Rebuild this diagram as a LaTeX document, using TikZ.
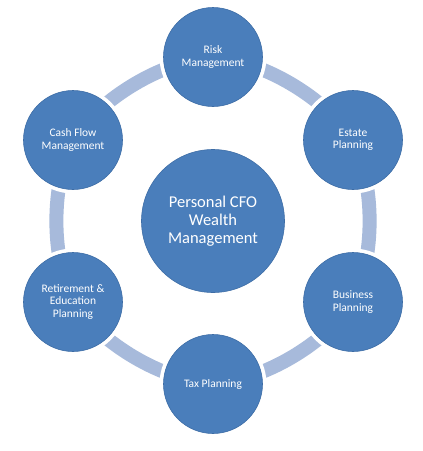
\documentclass[tikz,border=0pt]{standalone}
\usepackage{fontspec}
\setmainfont{Carlito}
\usepackage{tikz}
\usetikzlibrary{backgrounds}
\definecolor{cfoblue}{HTML}{4A7EBB}
\definecolor{cfoedge}{HTML}{3D6DA6}
\definecolor{ringblue}{HTML}{A7BADB}

\begin{document}
\begin{tikzpicture}[
  x=1pt, y=1pt,
  area/.style={circle, fill=cfoblue, draw=cfoedge, line width=0.6pt,
    preaction={draw=white, line width=8pt},
    text=white, align=center, inner sep=0pt},
  small/.style={area, minimum size=99pt, font=\fontsize{11.5}{12.5}\selectfont},
  hub/.style={area, minimum size=143pt, font=\fontsize{16.5}{18}\selectfont},
  ringarc/.style={ringblue, line width=14pt, bend left=26, looseness=0.8},
]
  \useasboundingbox (0,0) rectangle (423,-451);

  % ── Centre ───────────────────────────────────────────────────────────
  \node[hub] (cfo) at (213,-221) {Personal CFO\\Wealth\\Management};

  % ── Planning areas round the ring ────────────────────────────────────
  \node[small] (risk)     at (213,-57)  {Risk\\Management};
  \node[small] (estate)   at (353,-140) {Estate\\Planning};
  \node[small] (business) at (353,-302) {Business\\Planning};
  \node[small] (tax)      at (213,-384) {Tax Planning};
  \node[small] (retire)   at (73,-302)  {Retirement \&\\Education\\Planning};
  \node[small] (cashflow) at (73,-140)  {Cash Flow\\Management};

  % ── Ring segments ────────────────────────────────────────────────────
  \begin{scope}[on background layer]
    \fill[white] (0,0) rectangle (423,-451);
    \draw[ringarc] (risk.center)     to (estate.center);
    \draw[ringarc] (estate.center)   to (business.center);
    \draw[ringarc] (business.center) to (tax.center);
    \draw[ringarc] (tax.center)      to (retire.center);
    \draw[ringarc] (retire.center)   to (cashflow.center);
    \draw[ringarc] (cashflow.center) to (risk.center);
  \end{scope}
\end{tikzpicture}
\end{document}
